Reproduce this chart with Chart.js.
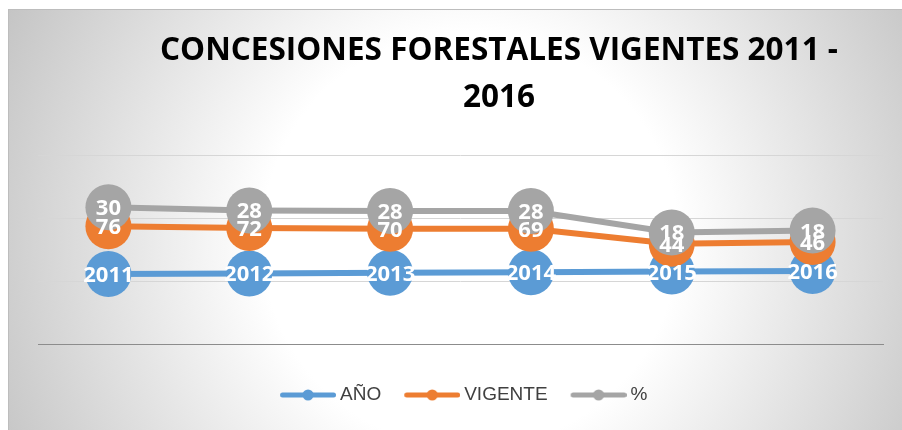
<!DOCTYPE html>
<html>
<head>
<meta charset="utf-8">
<script src="https://cdn.jsdelivr.net/npm/chart.js@4.4.0/dist/chart.umd.min.js"></script>
<style>
  html, body { margin: 0; padding: 0; background: #fff; }
</style>
</head>
<body>
<canvas id="myCanvas" width="902" height="430"></canvas>
<script>
const years = ['2011', '2012', '2013', '2014', '2015', '2016'];
const anio = [2011, 2012, 2013, 2014, 2015, 2016];
const vigente = [76, 72, 70, 69, 44, 46];
const porcentaje = [30, 28, 28, 28, 18, 18];
const titleLines = ['CONCESIONES FORESTALES VIGENTES 2011 -', '2016'];
const seriesNames = ['AÑO', 'VIGENTE', '%'];
const seriesColors = ['#5B9BD5', '#ED7D31', '#A5A5A5'];

// fondo con degradado radial, como el grafico de Excel
const bgPlugin = {
    id: 'bg',
    beforeDraw(chart) {
        const ctx = chart.ctx;
        ctx.save();
        ctx.fillStyle = '#ffffff';
        ctx.fillRect(0, 0, chart.width, chart.height);
        const g = ctx.createRadialGradient(470, 240, 0, 470, 240, 520);
        g.addColorStop(0, '#ffffff');
        g.addColorStop(0.4, '#ffffff');
        g.addColorStop(1, '#c4c4c4');
        ctx.fillStyle = g;
        ctx.fillRect(8, 9, chart.width - 8, chart.height - 9);
        ctx.strokeStyle = '#bdbdbd';
        ctx.lineWidth = 1;
        ctx.strokeRect(8.5, 9.5, chart.width, chart.height);
        ctx.restore();
    }
};

// titulo en dos lineas, algo desplazado a la derecha
const titlePlugin = {
    id: 'bigTitle',
    afterDraw(chart) {
        const ctx = chart.ctx;
        ctx.save();
        ctx.font = 'bold 31.5px "Open Sans"';
        ctx.fillStyle = '#000000';
        ctx.textAlign = 'center';
        ctx.textBaseline = 'alphabetic';
        ctx.fillText(titleLines[0], 499, 60);
        ctx.fillText(titleLines[1], 499, 107);
        ctx.restore();
    }
};

// series en orden de Excel (la primera abajo) y luego las etiquetas encima
const drawPlugin = {
    id: 'seriesOrder',
    beforeDatasetsDraw(chart) {
        const n = chart.data.datasets.length;
        for (let i = 0; i < n; i++) {
            if (chart.isDatasetVisible(i)) chart.getDatasetMeta(i).controller.draw();
        }
        const ctx = chart.ctx;
        ctx.save();
        ctx.font = 'bold 22px "Open Sans"';
        ctx.fillStyle = '#ffffff';
        ctx.textAlign = 'center';
        ctx.textBaseline = 'alphabetic';
        chart.data.datasets.forEach((ds, i) => {
            chart.getDatasetMeta(i).data.forEach((pt, j) => {
                ctx.fillText(String(ds.data[j]), pt.x, pt.y + 8);
            });
        });
        ctx.restore();
        return false;
    }
};

function legendIcon(color) {
    const c = document.createElement('canvas');
    c.width = 68;
    c.height = 14;
    const x = c.getContext('2d');
    x.strokeStyle = color;
    x.lineWidth = 5;
    x.lineCap = 'round';
    x.beginPath();
    x.moveTo(14.5, 7);
    x.lineTo(65.5, 7);
    x.stroke();
    x.fillStyle = color;
    x.beginPath();
    x.arc(40, 7, 5.5, 0, Math.PI * 2);
    x.fill();
    return c;
}

function serie(i, values) {
    return {
        label: seriesNames[i],
        data: values,
        borderColor: seriesColors[i],
        backgroundColor: seriesColors[i],
        pointBackgroundColor: seriesColors[i],
        borderWidth: 6,
        pointRadius: 23,
        pointHoverRadius: 23,
        pointBorderWidth: 0,
        tension: 0
    };
}

function init() {
    const ctx = document.getElementById('myCanvas').getContext('2d');
    new Chart(ctx, {
        type: 'line',
        data: {
            labels: years,
            datasets: [
                serie(0, anio),
                serie(1, vigente),
                serie(2, porcentaje)
            ]
        },
        options: {
            responsive: false,
            devicePixelRatio: 1,
            animation: false,
            events: [],
            layout: {
                autoPadding: false,
                padding: { left: 38, right: 19, top: 155, bottom: 15.5 }
            },
            plugins: {
                title: { display: false },
                tooltip: { enabled: false },
                legend: {
                    position: 'bottom',
                    labels: {
                        usePointStyle: true,
                        pointStyleWidth: 57,
                        boxHeight: 19,
                        padding: 16.5,
                        color: '#404040',
                        font: { family: '"Liberation Sans", Arial, sans-serif', size: 19 },
                        generateLabels: (chart) => chart.data.datasets.map((ds, i) => ({
                            text: ds.label,
                            pointStyle: legendIcon(ds.borderColor),
                            fillStyle: ds.borderColor,
                            strokeStyle: ds.borderColor,
                            lineWidth: 0,
                            fontColor: '#404040',
                            hidden: !chart.isDatasetVisible(i),
                            datasetIndex: i
                        }))
                    }
                }
            },
            scales: {
                x: {
                    offset: true,
                    grid: { display: false, drawTicks: false },
                    border: { display: true, color: '#8c8c8c', width: 1 },
                    ticks: { display: false },
                    afterFit: (s) => { s.height = 25; }
                },
                y: {
                    stacked: true,
                    min: 1900,
                    max: 2200,
                    ticks: { display: false, stepSize: 100 },
                    grid: {
                        drawTicks: false,
                        lineWidth: 1,
                        color: (c) => (c.tick && c.tick.value === 1900) ? '#8c8c8c' : '#d6d6d6'
                    },
                    border: { display: false },
                    afterFit: (s) => { s.width = 0; }
                }
            }
        },
        plugins: [bgPlugin, drawPlugin, titlePlugin]
    });
}

document.addEventListener('DOMContentLoaded', init);
</script>
</body>
</html>
